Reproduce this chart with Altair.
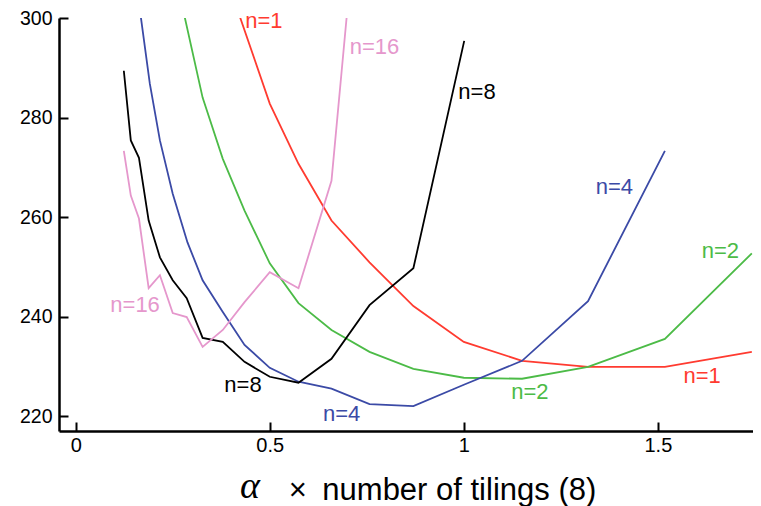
import altair as alt
import pandas as pd

series_names = ["n=1", "n=2", "n=4", "n=8", "n=16"]
series_colors = ["#ff3b30", "#4cbb47", "#3b4aa6", "#000000", "#e597cc"]

x_n1 = [0.38, 0.5, 0.574, 0.659, 0.757, 0.87, 1.0, 1.15, 1.32, 1.518, 1.742]
y_n1 = [310, 282.8, 270.7, 259.3, 250.9, 242.1, 234.9, 231.1, 229.9, 229.9, 232.9]

x_n2 = [0.27, 0.327, 0.379, 0.435, 0.5, 0.574, 0.659, 0.757, 0.87, 1.0, 1.15, 1.32, 1.518, 1.742]
y_n2 = [304, 284.0, 271.7, 261.3, 250.7, 242.7, 237.3, 232.9, 229.5, 227.7, 227.5, 229.9, 235.5, 252.7]

x_n4 = [0.163, 0.191, 0.217, 0.25, 0.288, 0.327, 0.379, 0.435, 0.5, 0.574, 0.659, 0.757, 0.87, 1.0, 1.15, 1.32, 1.518]
y_n4 = [303.0, 286.8, 275.4, 264.7, 254.9, 247.3, 240.9, 234.3, 229.7, 226.9, 225.5, 222.4, 222.0, 226.3, 231.1, 243.1, 273.3]

x_n8 = [0.124, 0.142, 0.163, 0.188, 0.217, 0.25, 0.286, 0.327, 0.379, 0.435, 0.5, 0.574, 0.659, 0.757, 0.87, 1.001]
y_n8 = [289.4, 275.4, 271.9, 259.3, 251.9, 247.3, 243.7, 235.7, 234.9, 230.9, 227.9, 226.7, 231.5, 242.3, 249.7, 295.4]

x_n16 = [0.124, 0.142, 0.163, 0.188, 0.217, 0.25, 0.286, 0.327, 0.379, 0.435, 0.5, 0.574, 0.659, 0.757]
y_n16 = [273.3, 264.3, 259.7, 245.7, 248.3, 240.7, 239.9, 233.9, 237.3, 242.9, 248.9, 245.7, 267.3, 349.7]

label_text = ["n=1", "n=16", "n=8", "n=4", "n=2", "n=1", "n=2", "n=4", "n=8", "n=16"]
label_series = ["n=1", "n=16", "n=8", "n=4", "n=2", "n=1", "n=2", "n=4", "n=8", "n=16"]
label_x = [0.485, 0.770, 1.034, 1.388, 1.661, 1.614, 1.170, 0.685, 0.431, 0.153]
label_y = [299.3, 294.2, 285.2, 266.1, 253.1, 228.1, 224.9, 220.4, 226.3, 242.3]

x_ticks = [0, 0.5, 1, 1.5]
y_ticks = [220, 240, 260, 280, 300]

alpha_symbol = "α"
x_title = "×\u2002number of tilings (8)"

rows = []
for name, xs, ys in [("n=1", x_n1, y_n1), ("n=2", x_n2, y_n2), ("n=4", x_n4, y_n4),
                     ("n=8", x_n8, y_n8), ("n=16", x_n16, y_n16)]:
    for i, (xv, yv) in enumerate(zip(xs, ys)):
        rows.append({"series": name, "x": xv, "y": yv, "i": i})
df = pd.DataFrame(rows)

labels_df = pd.DataFrame({"text": label_text, "series": label_series, "x": label_x, "y": label_y})

FONT = "Liberation Sans"
xscale = alt.Scale(domain=[-0.043, 1.745], nice=False, zero=False)
yscale = alt.Scale(domain=[217, 300], nice=False, zero=False)
color = alt.Color("series:N", scale=alt.Scale(domain=series_names, range=series_colors), legend=None)

lines = alt.Chart(df).mark_line(clip=True, strokeWidth=1.8).encode(
    x=alt.X("x:Q", scale=xscale, axis=alt.Axis(
        orient="bottom", values=x_ticks, format="~g", ticks=False, grid=False,
        domainColor="black", domainWidth=2.5,
        labelFont=FONT, labelFontSize=20, labelColor="black", labelPadding=4,
        title=x_title, titleFont=FONT, titleFontSize=31,
        titleFontWeight="normal", titleColor="black",
        titleBaseline="alphabetic", titleY=68, titleX=383)),
    y=alt.Y("y:Q", scale=yscale, axis=alt.Axis(
        orient="left", values=y_ticks, ticks=False, grid=False,
        domainColor="black", domainWidth=2.5,
        labelFont=FONT, labelFontSize=19.5, labelColor="black", labelPadding=7,
        title=None)),
    color=color,
    order="i:Q",
    detail="series:N",
)

texts = alt.Chart(labels_df).mark_text(font=FONT, fontSize=22, align="center", baseline="middle").encode(
    x=alt.X("x:Q", scale=xscale, axis=alt.Axis(
        orient="bottom", values=x_ticks, domain=False, labels=False, ticks=True,
        tickSize=9, tickWidth=2, tickColor="black", offset=-9, grid=False, title=None)),
    y=alt.Y("y:Q", scale=yscale, axis=alt.Axis(
        orient="left", values=y_ticks, domain=False, labels=False, ticks=True,
        tickSize=9, tickWidth=2, tickColor="black", offset=-9, grid=False, title=None)),
    text="text:N",
    color=color,
)

chart = alt.layer(lines, texts).resolve_axis(x="independent", y="independent").properties(
    width=694, height=413,
    autosize=alt.AutoSizeParams(type="none"),
    padding={"left": 51, "top": 10, "right": 0, "bottom": 76},
    title=alt.TitleParams(
        text=alpha_symbol, orient="bottom", anchor="start", frame="group",
        font="Liberation Serif", fontStyle="italic", fontWeight="normal",
        fontSize=38, color="black", baseline="alphabetic", align="left",
        dx=181, offset=-7),
).configure_view(stroke=None)

chart.save("out.html", embed_options={"renderer": "svg", "actions": False})
